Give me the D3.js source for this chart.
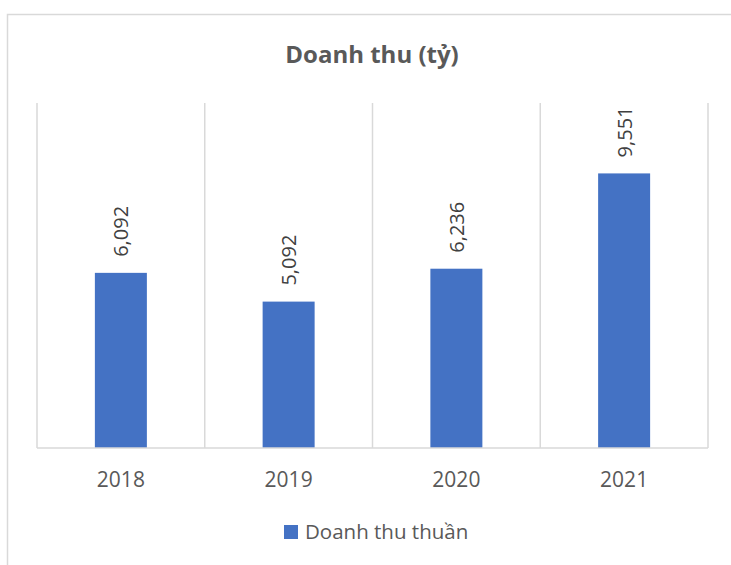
<!DOCTYPE html>
<html>
<head>
<meta charset="utf-8">
<script src="https://cdn.jsdelivr.net/npm/d3@7"></script>
<style>
  body { margin: 0; background: #fff; }
  text { font-family: 'Open Sans', 'Noto Sans', sans-serif; }
</style>
</head>
<body>
<script>
var years = ['2018', '2019', '2020', '2021'];
var revenue = [6092, 5092, 6236, 9551];
var seriesName = 'Doanh thu thuần';
var title = 'Doanh thu (tỷ)';

var width = 731, height = 565,
  margin = { left: 37, right: 23, top: 103, bottom: 117 };

var svg = d3.select('body').append('svg')
  .attr('width', width)
  .attr('height', height);

// chart frame (runs off the right/bottom edge)
svg.append('rect')
  .attr('x', 7.5).attr('y', 14.5)
  .attr('width', 740).attr('height', 570)
  .attr('fill', '#fff')
  .attr('stroke', '#d9d9d9')
  .attr('stroke-width', 1.5);

var x = d3.scaleBand()
  .domain(years)
  .range([margin.left, width - margin.right])
  .paddingInner(0.69)
  .paddingOuter(0.345);

var y = d3.scaleLinear()
  .domain([0, 12000])
  .range([height - margin.bottom, margin.top]);

// vertical category gridlines
svg.selectAll('.grid')
  .data(d3.range(5))
  .enter()
  .append('line')
  .attr('class', 'grid')
  .attr('x1', function (i) { return margin.left + i * (width - margin.left - margin.right) / 4; })
  .attr('x2', function (i) { return margin.left + i * (width - margin.left - margin.right) / 4; })
  .attr('y1', y(12000))
  .attr('y2', y(0))
  .attr('stroke', '#d9d9d9')
  .attr('stroke-width', 1.5);

svg.selectAll('.bar')
  .data(revenue)
  .enter()
  .append('rect')
  .attr('class', 'bar')
  .attr('x', function (d, i) { return x(years[i]); })
  .attr('width', x.bandwidth())
  .attr('y', function (d) { return y(d); })
  .attr('height', function (d) { return y(0) - y(d); })
  .attr('fill', '#4472c4');

// baseline
svg.append('line')
  .attr('x1', margin.left).attr('x2', width - margin.right)
  .attr('y1', y(0)).attr('y2', y(0))
  .attr('stroke', '#d9d9d9')
  .attr('stroke-width', 1.5);

// rotated value labels
svg.selectAll('.val')
  .data(revenue)
  .enter()
  .append('text')
  .attr('class', 'val')
  .attr('transform', function (d, i) {
    return 'translate(' + (x(years[i]) + x.bandwidth() / 2) + ',' + (y(d) - 16) + ') rotate(-90)';
  })
  .attr('dominant-baseline', 'central')
  .attr('font-size', 20)
  .attr('fill', '#404040')
  .text(function (d) { return d3.format(',')(d); });

// category labels
svg.selectAll('.tick-label')
  .data(years)
  .enter()
  .append('text')
  .attr('class', 'tick-label')
  .attr('x', function (d) { return x(d) + x.bandwidth() / 2; })
  .attr('y', y(0) + 38.5)
  .attr('text-anchor', 'middle')
  .attr('font-size', 21)
  .attr('fill', '#595959')
  .text(function (d) { return d; });

svg.append('text')
  .attr('x', 372)
  .attr('y', 63)
  .attr('text-anchor', 'middle')
  .attr('font-size', 24)
  .attr('font-weight', 'bold')
  .attr('fill', '#595959')
  .text(title);

// legend
svg.append('rect')
  .attr('x', 284).attr('y', 525)
  .attr('width', 14).attr('height', 14)
  .attr('fill', '#4472c4');

svg.append('text')
  .attr('x', 305)
  .attr('y', 539)
  .attr('font-size', 20.5)
  .attr('fill', '#595959')
  .text(seriesName);
</script>
</body>
</html>
